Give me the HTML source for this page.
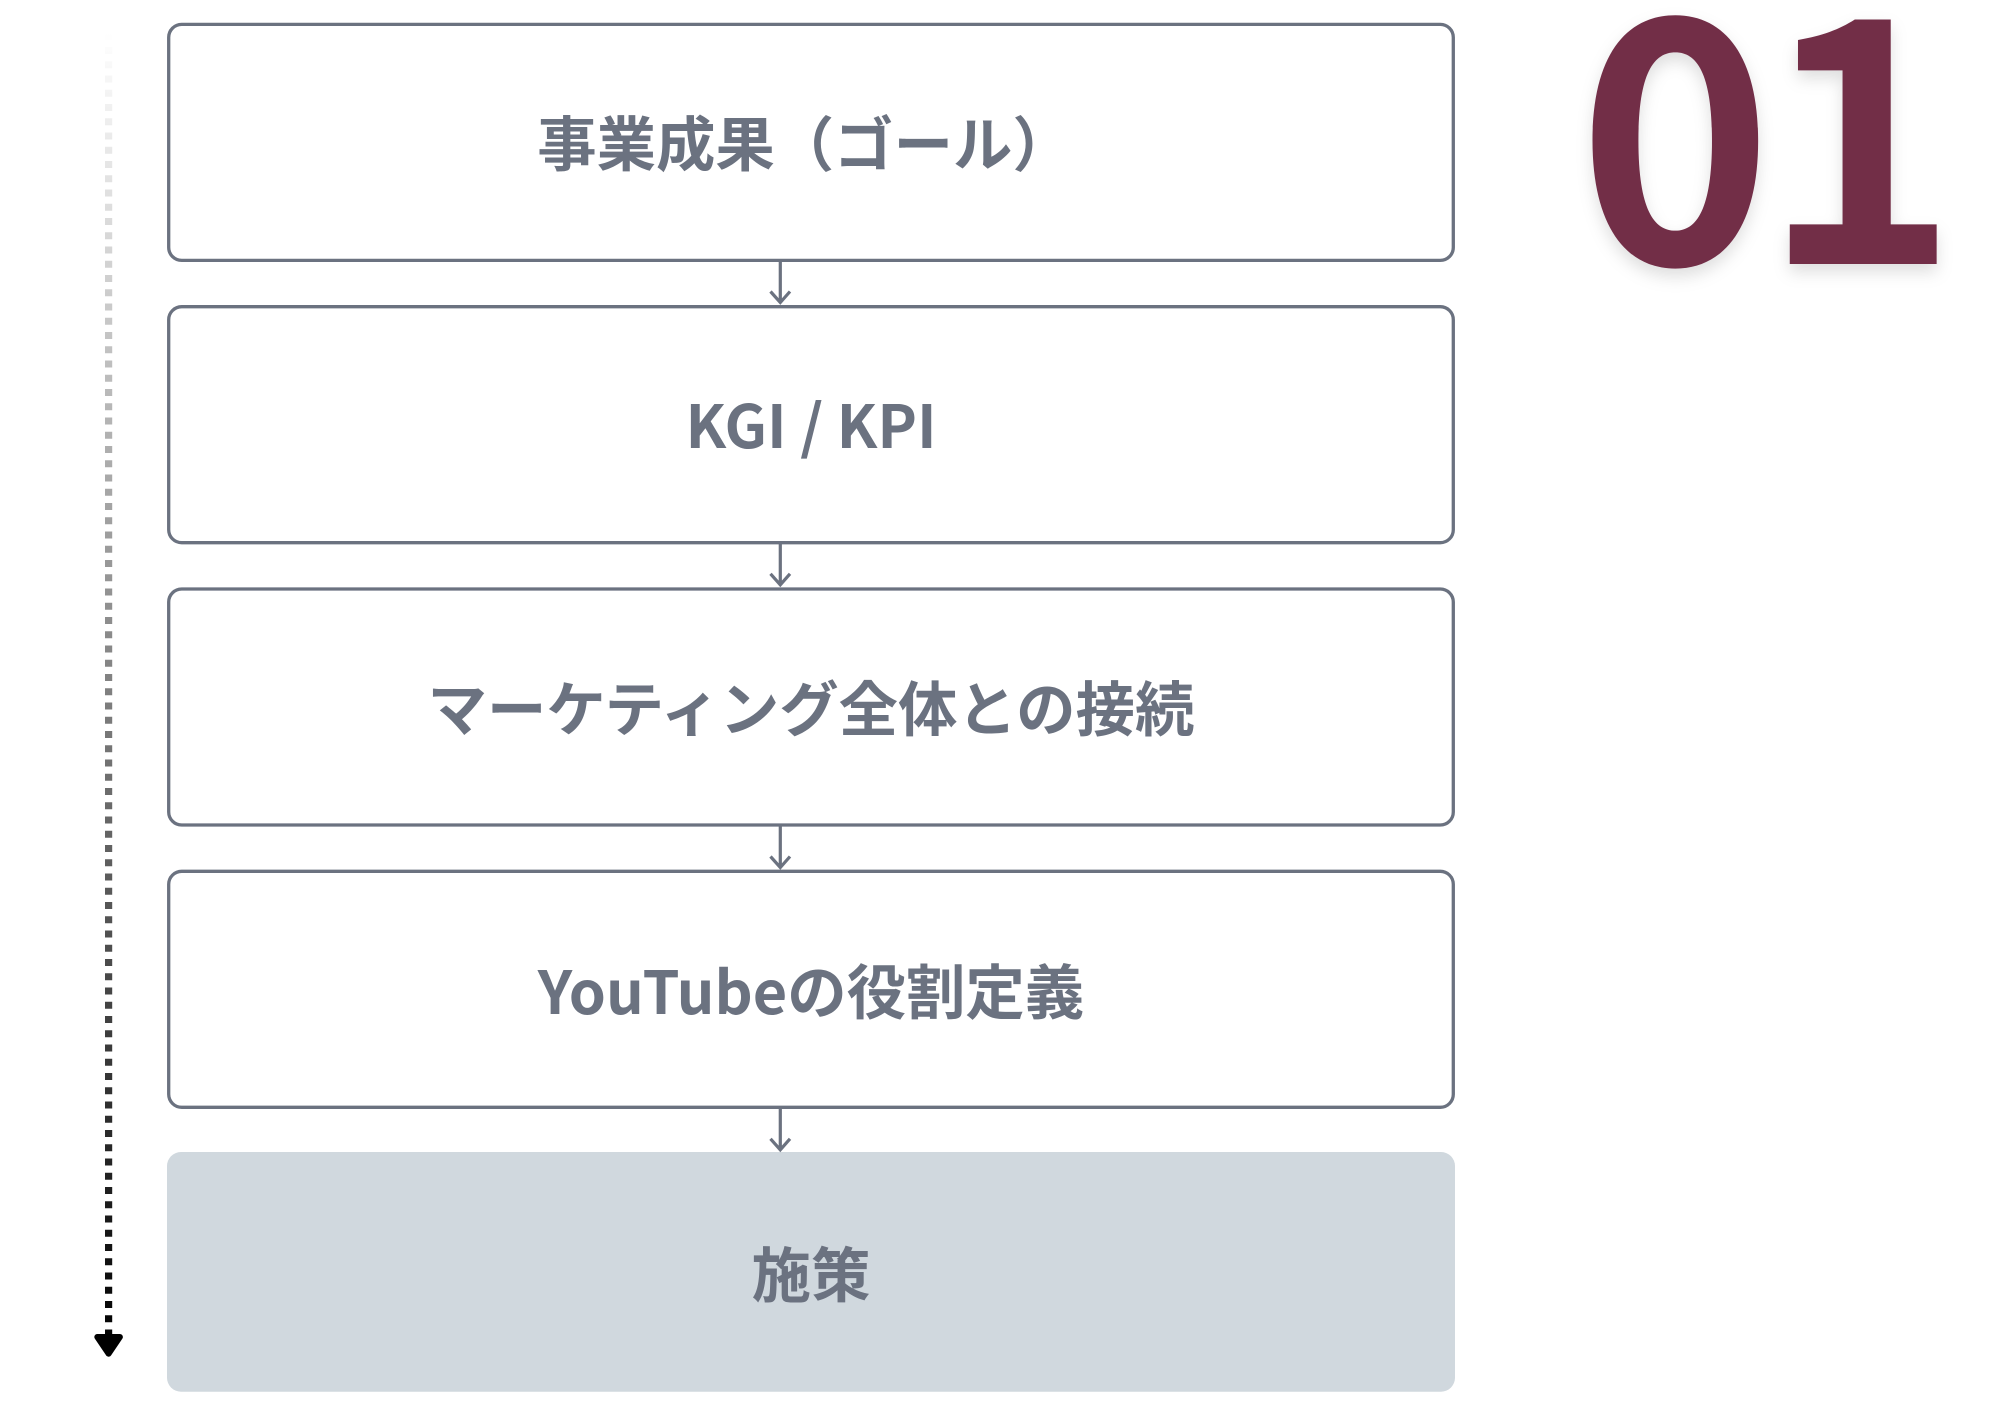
<!DOCTYPE html>
<html lang="ja">
<head>
<meta charset="utf-8">
<style>
html,body{margin:0;padding:0;background:#fff;width:2000px;height:1414px;overflow:hidden}
svg{display:block}
text{font-family:"Liberation Sans","Noto Sans CJK JP",sans-serif}
.t{font-family:"Noto Sans CJK JP","Liberation Sans",sans-serif;font-weight:700;font-size:59.4px;fill:#6b7280;text-anchor:middle}
.n{font-family:"Noto Sans CJK JP","Liberation Sans",sans-serif;font-weight:700;font-size:330px;letter-spacing:-10px;fill:#722e47}
</style>
</head>
<body>
<svg width="2000" height="1414" viewBox="0 0 2000 1414" xmlns="http://www.w3.org/2000/svg">
<defs>
<linearGradient id="g" gradientUnits="userSpaceOnUse" x1="0" y1="33" x2="0" y2="1350">
<stop offset="0" stop-color="#fff"/>
<stop offset="1" stop-color="#000"/>
</linearGradient>
<filter id="s" x="-20%" y="-20%" width="140%" height="140%">
<feDropShadow dx="0" dy="8" stdDeviation="8" flood-color="#000" flood-opacity="0.13"/>
</filter>
</defs>

<line x1="108.6" y1="32.7" x2="108.6" y2="1340" stroke="url(#g)" stroke-width="7.2" stroke-dasharray="7.1 7.15"/>
<path d="M97.3 1337 H119.9 L108.6 1353.7 Z" fill="#000" stroke="#000" stroke-width="6" stroke-linejoin="round"/>

<g fill="#fff" stroke="#6b7280" stroke-width="3.3">
<rect x="168.7" y="24.4" width="1284.6" height="236" rx="13"/>
<rect x="168.7" y="306.7" width="1284.6" height="236" rx="13"/>
<rect x="168.7" y="589" width="1284.6" height="236" rx="13"/>
<rect x="168.7" y="871.3" width="1284.6" height="236" rx="13"/>
</g>
<rect x="167" y="1152" width="1288" height="239.7" rx="14" fill="#d0d8de"/>

<g fill="none" stroke="#6b7280" stroke-width="3.2">
<path d="M780.3 261V302M770.5 291.5L780.3 302.5L790 291.5"/>
<path d="M780.3 543V584.3M770.5 573.8L780.3 584.8L790 573.8"/>
<path d="M780.3 826V867M770.5 856.5L780.3 867.5L790 856.5"/>
<path d="M780.3 1108V1149.3M770.5 1138.8L780.3 1149.8L790 1138.8"/>
</g>

<text class="t" x="804.5" y="166">事業成果（ゴール）</text>
<text class="t" x="811" y="448">KGI / KPI</text>
<text class="t" x="811" y="731">マーケティング全体との接続</text>
<text class="t" x="811" y="1014">YouTubeの役割定義</text>
<text class="t" x="811" y="1297">施策</text>

<text class="n" x="1578" y="264" filter="url(#s)">01</text>
</svg>
</body>
</html>
